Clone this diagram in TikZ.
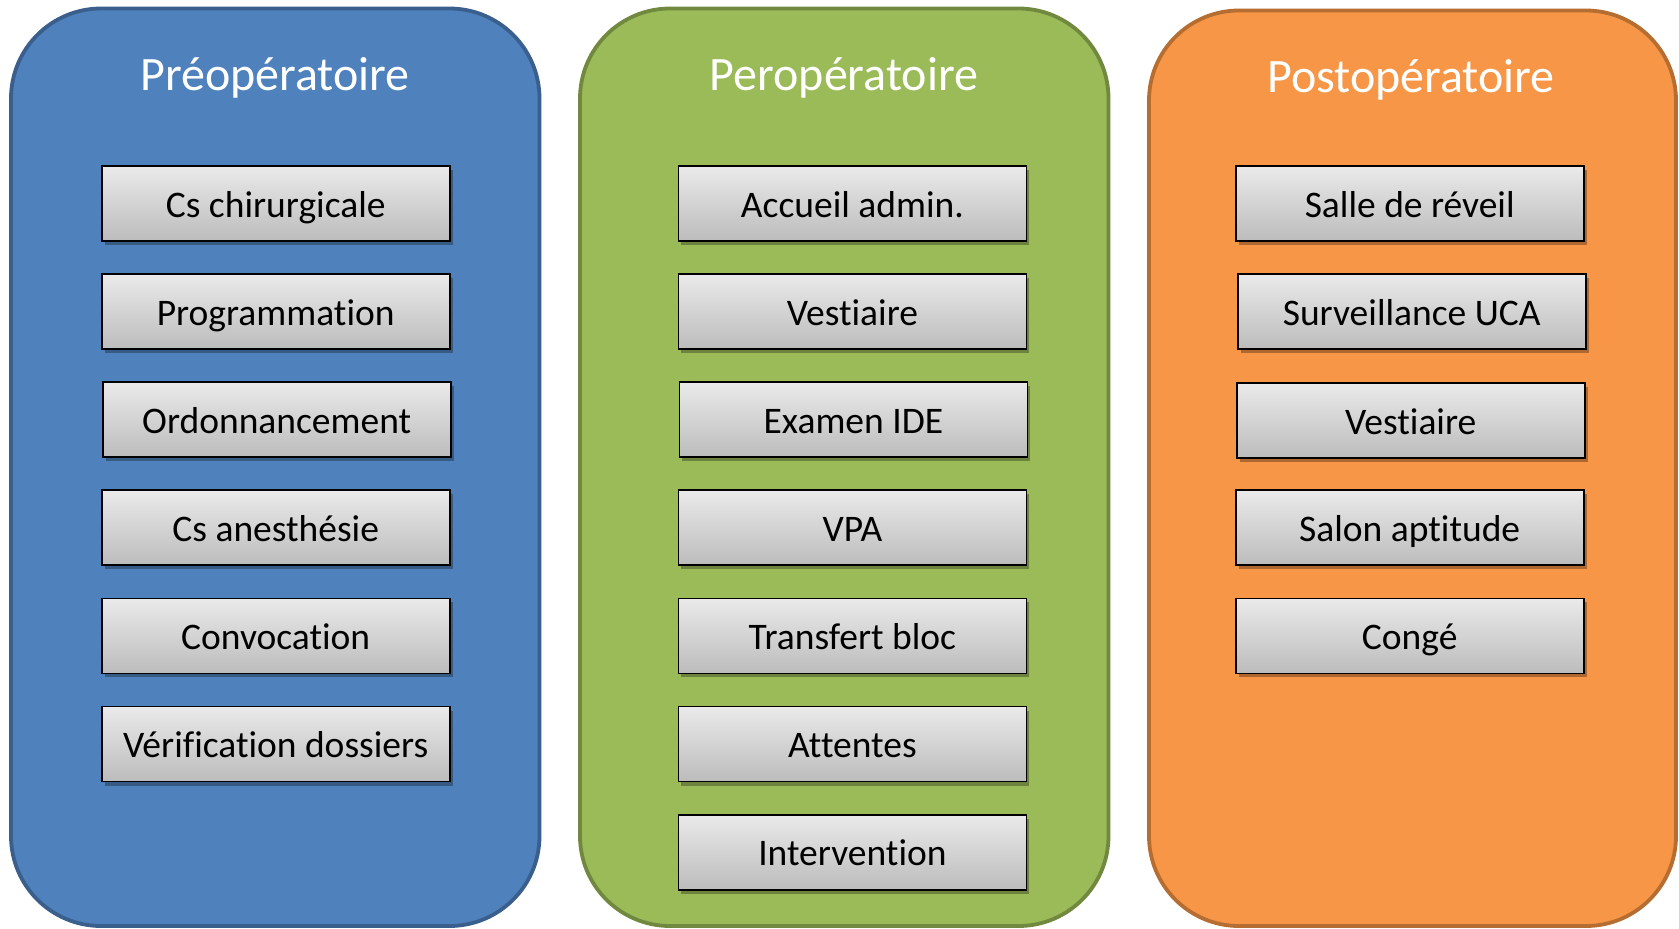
\documentclass[tikz,border=0pt]{standalone}
\usepackage{fontspec}
\setmainfont{Carlito}[Ligatures={NoCommon,NoRare,NoContextual}]
\usetikzlibrary{shadows}
\definecolor{bluefill}{HTML}{4F81BD}
\definecolor{blueline}{HTML}{3A5F8C}
\definecolor{greenfill}{HTML}{9BBB59}
\definecolor{greenline}{HTML}{71893F}
\definecolor{orangefill}{HTML}{F79646}
\definecolor{orangeline}{HTML}{B66D31}
\definecolor{boxtop}{HTML}{EAEAEA}
\definecolor{boxbot}{HTML}{BCBCBC}
\tikzset{
  panel/.style={line width=3.8pt, rounded corners=90pt},
  title/.style={text=white, font=\fontsize{48}{58}\selectfont, text height=31pt, text depth=0pt, inner sep=0pt},
  item/.style={draw=black, line width=1.8pt, top color=boxtop, bottom color=boxbot,
    minimum width=348pt, minimum height=75pt, inner sep=0pt,
    text height=27pt, text depth=0pt,
    font=\fontsize{37.5}{45}\selectfont,
    drop shadow={shadow xshift=3pt, shadow yshift=-4pt, fill=black, opacity=0.3}}
}
\begin{document}
\begin{tikzpicture}[x=1pt,y=-1pt]
\useasboundingbox (0,0) rectangle (1679,929);
% panels
\draw[panel, fill=bluefill, draw=blueline] (11,8.5) rectangle (539.5,926);
\draw[panel, fill=greenfill, draw=greenline] (580,8.5) rectangle (1108.5,926);
\draw[panel, fill=orangefill, draw=orangeline] (1149,10.5) rectangle (1676,926);
% titles
\node[title] (t1) at (275,75) {Préopératoire};
\node[title] (t2) at (844,75) {Peropératoire};
\node[title] (t3) at (1411,77) {Postopératoire};
% column 1
\node[item] (a1) at (275.7,203.5) {Cs chirurgicale};
\node[item] (a2) at (275.7,311.6) {Programmation};
\node[item] (a3) at (276.7,419.7) {Ordonnancement};
\node[item] (a4) at (275.7,527.8) {Cs anesthésie};
\node[item] (a5) at (275.7,635.9) {Convocation};
\node[item] (a6) at (275.7,744.0) {Vérification dossiers};
% column 2
\node[item] (b1) at (852.4,203.5) {Accueil admin.};
\node[item] (b2) at (852.4,311.6) {Vestiaire};
\node[item] (b3) at (853.4,419.7) {Examen IDE};
\node[item] (b4) at (852.4,527.8) {VPA};
\node[item] (b5) at (852.4,635.9) {Transfert bloc};
\node[item] (b6) at (852.4,744.0) {Attentes};
\node[item] (b7) at (852.4,852.1) {Intervention};
% column 3
\node[item] (c1) at (1409.7,203.5) {Salle de réveil};
\node[item] (c2) at (1411.7,311.6) {Surveillance UCA};
\node[item] (c3) at (1410.7,420.7) {Vestiaire};
\node[item] (c4) at (1409.7,527.8) {Salon aptitude};
\node[item] (c5) at (1409.7,635.9) {Congé};
\end{tikzpicture}
\end{document}
